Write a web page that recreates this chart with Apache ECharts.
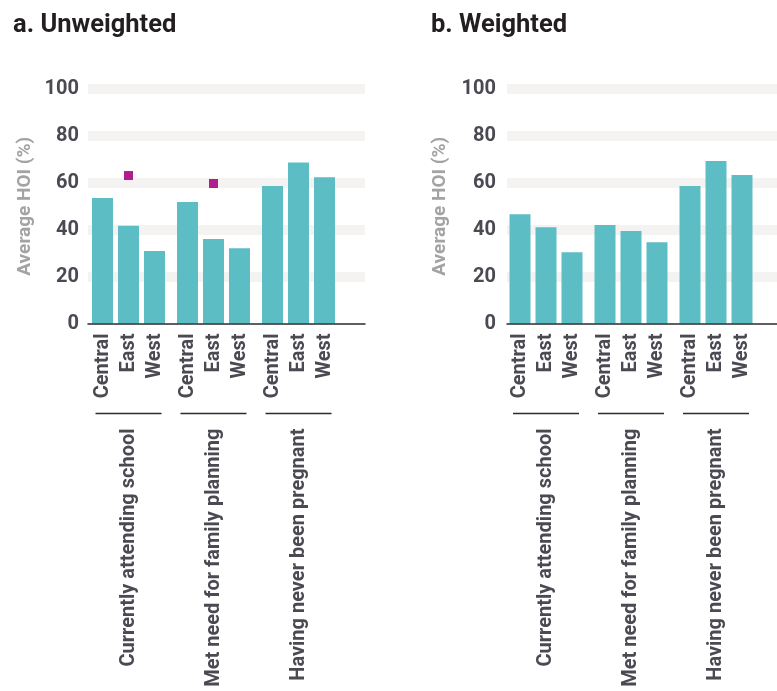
<!DOCTYPE html>
<html>
<head>
<meta charset="utf-8">
<script src="https://cdn.jsdelivr.net/npm/echarts@6/dist/echarts.min.js"></script>
<style>
html,body{margin:0;padding:0;background:#fff;}
#chart{width:777px;height:691px;}
</style>
</head>
<body>
<div id="chart"></div>
<script>
// ---- data ----
var regions = ['Central', 'East', 'West'];
var groups = ['Currently attending school', 'Met need for family planning', 'Having never been pregnant'];
var panelTitles = ['a. Unweighted', 'b. Weighted'];
var yTicks = [0, 20, 40, 60, 80, 100];
var unweightedSchool = [53.5, 41.7, 30.9];
var unweightedFamily = [51.8, 36.0, 32.1];
var unweightedPregnant = [58.6, 68.7, 62.4];
var weightedSchool = [46.6, 41.0, 30.4];
var weightedFamily = [42.0, 39.4, 34.7];
var weightedPregnant = [58.6, 69.3, 63.3];
// magenta markers (unweighted panel only)
var markerSchool = [null, 63.1, null];
var markerFamily = [null, 59.7, null];
var markerPregnant = [null, null, null];

// ---- layout ----
var FONT = 'Roboto';
var TXT = '#4a4a52';
var BAR = '#5cbdc4';
var MARK = '#b01e8e';
var BAND = '#f4f3f1';
var gridTop = 89, gridBottom = 691 - 323.5;
var panels = [
  {left: 88, width: 277, centers: [128.5, 213.5, 298.5], bars: [unweightedSchool, unweightedFamily, unweightedPregnant],
   markers: [markerSchool, markerFamily, markerPregnant], titleLeft: 8, nameGap: 53, labelMargin: 9},
  {left: 507, width: 270, centers: [546, 631, 716], bars: [weightedSchool, weightedFamily, weightedPregnant],
   markers: null, titleLeft: 426, nameGap: 57, labelMargin: 11}
];
var pitch = 26;

var grids = [], xAxes = [], yAxes = [], series = [], graphics = [], titles = [];
var bandColors = ['rgba(0,0,0,0)'].concat(yTicks.slice(1).map(function(){return BAND;}));

panels.forEach(function(p, pi){
  titles.push({text: panelTitles[pi], left: p.titleLeft, top: 8,
    textStyle: {fontFamily: FONT, fontWeight: 'bold', fontSize: 25.5, color: '#231f20'}});
  // background grid with y axis + bands
  var gi = grids.length;
  grids.push({left: p.left, width: p.width, top: gridTop, bottom: gridBottom});
  xAxes.push({type: 'category', gridIndex: gi, data: [''], axisTick: {show: false}, axisLabel: {show: false},
    axisLine: {show: true, lineStyle: {color: '#2b2b30', width: 1.5}}, z: 5});
  yAxes.push({type: 'value', gridIndex: gi, min: 0, max: 100, interval: 20,
    name: 'Average HOI (%)', nameLocation: 'middle', nameGap: p.nameGap, nameRotate: 90,
    nameTextStyle: {fontFamily: FONT, fontSize: 19, color: '#a3a3a3', fontWeight: 'bold'},
    axisLine: {show: false}, axisTick: {show: false},
    axisLabel: {fontFamily: FONT, fontWeight: 'bold', fontSize: 20, color: TXT, margin: p.labelMargin, padding: [4,0,0,0]},
    splitLine: {show: true, lineStyle: {color: bandColors, width: 10}}});
  // group grids
  p.centers.forEach(function(c, k){
    var g = grids.length;
    grids.push({left: c - 1.5 * pitch, width: 3 * pitch, top: gridTop, bottom: gridBottom});
    var xi = xAxes.length;
    xAxes.push({type: 'category', gridIndex: g, data: regions, axisLine: {show: false}, axisTick: {show: false},
      axisLabel: {rotate: 90, margin: 10, fontFamily: FONT, fontWeight: 'bold', fontSize: 20, color: TXT, interval: 0}});
    xAxes.push({type: 'category', gridIndex: g, data: [groups[k]], position: 'bottom', offset: 90,
      axisLine: {show: false}, axisTick: {show: false},
      axisLabel: {rotate: 90, margin: 15, fontFamily: FONT, fontWeight: 'bold', fontSize: 20, color: TXT}});
    var yi = yAxes.length;
    yAxes.push({type: 'value', gridIndex: g, min: 0, max: 100, show: false, splitLine: {show: false}});
    series.push({type: 'bar', xAxisIndex: xi, yAxisIndex: yi, data: p.bars[k], barWidth: 21,
      itemStyle: {color: BAR}, z: 3});
    if (p.markers) {
      series.push({type: 'scatter', xAxisIndex: xi, yAxisIndex: yi, data: p.markers[k], symbol: 'rect',
        symbolSize: 9, itemStyle: {color: MARK, opacity: 1}, z: 4});
    }
    graphics.push({type: 'line', shape: {x1: c - 33, y1: 413.5, x2: c + 33, y2: 413.5},
      style: {stroke: '#2b2b30', lineWidth: 1.5}});
  });
});

var chart = echarts.init(document.getElementById('chart'), null, {renderer: 'canvas'});
chart.setOption({
  animation: false,
  title: titles,
  grid: grids,
  xAxis: xAxes,
  yAxis: yAxes,
  series: series,
  graphic: graphics
});
</script>
</body>
</html>
